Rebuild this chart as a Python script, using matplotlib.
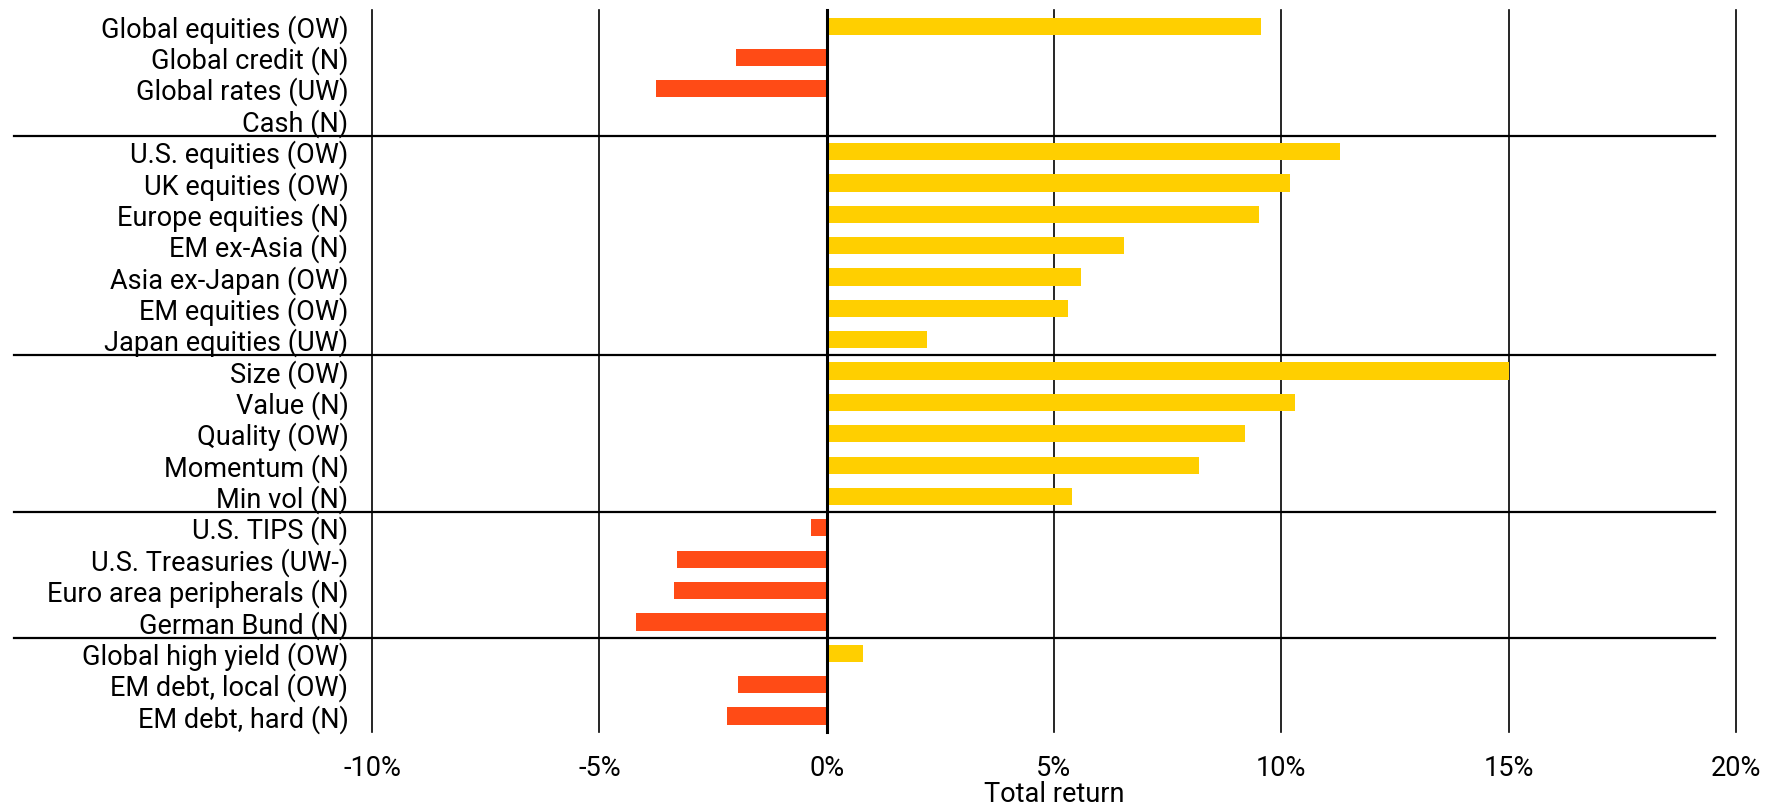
import matplotlib.pyplot as plt
from matplotlib.ticker import FuncFormatter

plt.rcParams['font.family'] = ['Roboto', 'DejaVu Sans']

labels = ["Global equities (OW)", "Global credit (N)", "Global rates (UW)", "Cash (N)",
          "U.S. equities (OW)", "UK equities (OW)", "Europe equities (N)", "EM ex-Asia (N)",
          "Asia ex-Japan (OW)", "EM equities (OW)", "Japan equities (UW)",
          "Size (OW)", "Value (N)", "Quality (OW)", "Momentum (N)", "Min vol (N)",
          "U.S. TIPS (N)", "U.S. Treasuries (UW-)", "Euro area peripherals (N)", "German Bund (N)",
          "Global high yield (OW)", "EM debt, local (OW)", "EM debt, hard (N)"]
returns = [9.55, -2.0, -3.75, 0.0,
           11.3, 10.2, 9.5, 6.55, 5.6, 5.3, 2.2,
           15.0, 10.3, 9.2, 8.2, 5.4,
           -0.35, -3.3, -3.35, -4.2,
           0.8, -1.95, -2.2]
# group boundaries (index of last row in each group)
group_ends = [3, 10, 15, 19]
xticks = [-10, -5, 0, 5, 10, 15, 20]

pos_color = '#FFCF00'
neg_color = '#FF4B16'

fig = plt.figure(figsize=(17.79, 8.06), dpi=100)
ax = fig.add_axes([0.2091, 0.0922, 0.7667, 0.8948])

y = list(range(len(labels)))
colors = [pos_color if v >= 0 else neg_color for v in returns]
ax.barh(y, returns, height=0.55, color=colors, zorder=2)

ax.set_xlim(-10, 20)
ax.set_ylim(len(labels) - 0.5, -0.5)

for t in xticks:
    lw = 2.2 if t == 0 else 1.2
    ax.axvline(t, color='black', lw=lw, zorder=3 if t == 0 else 1, clip_on=False)

for g in group_ends:
    ax.axhline(g + 0.5, xmin=-0.2625, xmax=0.9846, color='black', lw=1.6,
               clip_on=False, zorder=3)

ax.set_yticks(y)
ax.set_yticklabels(labels, fontsize=19.5)
ax.set_xticks(xticks)
ax.xaxis.set_major_formatter(FuncFormatter(lambda v, p: f"{v:.0f}%"))
ax.tick_params(axis='y', length=0, pad=17)
ax.tick_params(axis='x', length=0, pad=17, labelsize=19.5)
ax.set_xlabel("Total return", fontsize=19.5, va='baseline')
ax.xaxis.set_label_coords(0.5, -0.0975)

for s in ax.spines.values():
    s.set_visible(False)

fig.savefig("out.png", dpi=100)
